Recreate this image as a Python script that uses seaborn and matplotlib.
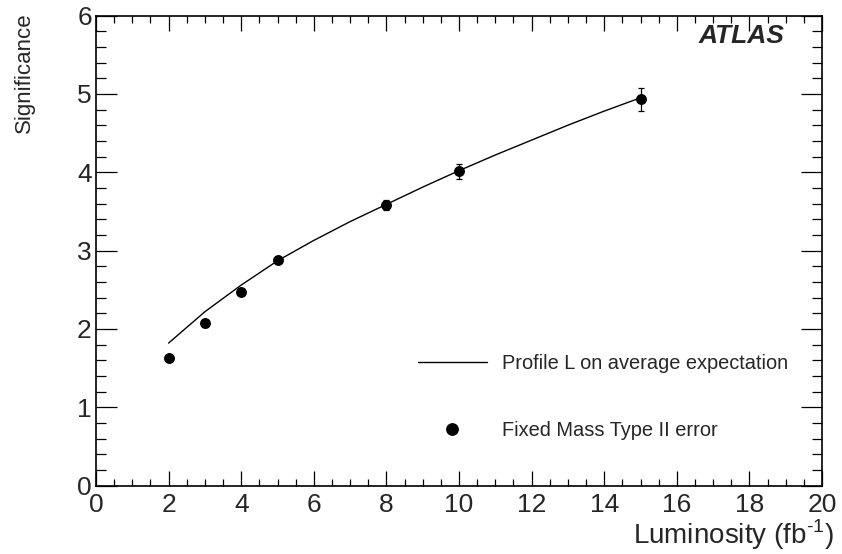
import matplotlib
matplotlib.use("Agg")
import matplotlib.pyplot as plt
from matplotlib.ticker import MultipleLocator
from matplotlib.lines import Line2D
import seaborn as sns
import pandas as pd

# Expected significance vs. integrated luminosity
curve_lumi = [2, 3, 4, 5, 6, 7, 8, 9, 10, 11, 12, 13, 14, 15]
curve_signif = [1.82, 2.22, 2.56, 2.87, 3.13, 3.37, 3.59, 3.81, 4.02, 4.22, 4.41, 4.60, 4.78, 4.95]

point_lumi = [2, 3, 4, 5, 8, 10, 15]
point_signif = [1.63, 2.07, 2.47, 2.88, 3.58, 4.01, 4.93]
point_err = [0.04, 0.04, 0.04, 0.04, 0.06, 0.10, 0.15]

curve_label = "Profile L on average expectation"
point_label = "Fixed Mass Type II error"

sns.set_style("ticks")
plt.rcParams["font.family"] = ["Liberation Sans", "DejaVu Sans"]
plt.rcParams["mathtext.fontset"] = "custom"
plt.rcParams["mathtext.rm"] = "Liberation Sans"

curve_df = pd.DataFrame({"lumi": curve_lumi, "signif": curve_signif})
point_df = pd.DataFrame({"lumi": point_lumi, "signif": point_signif, "err": point_err})

fig = plt.figure(figsize=(8.42, 5.54), dpi=100)
ax = fig.add_axes([96 / 842, 1 - 485.7 / 554, (822 - 96) / 842, (485.7 - 15.5) / 554])

sns.lineplot(data=curve_df, x="lumi", y="signif", ax=ax, color="black",
             linewidth=1.0, sort=True, legend=False)
ax.errorbar(point_df["lumi"], point_df["signif"], yerr=point_df["err"],
            fmt="none", ecolor="black", elinewidth=0.9, capsize=2.2, capthick=0.9)
sns.scatterplot(data=point_df, x="lumi", y="signif", ax=ax, color="black",
                s=62, edgecolor="black", linewidth=0, legend=False, zorder=5)

ax.set_xlim(0, 20)
ax.set_ylim(0, 6)
ax.xaxis.set_major_locator(MultipleLocator(2))
ax.xaxis.set_minor_locator(MultipleLocator(0.5))
ax.yaxis.set_major_locator(MultipleLocator(1))
ax.yaxis.set_minor_locator(MultipleLocator(0.2))

for side in ax.spines.values():
    side.set_linewidth(1.2)
    side.set_color("black")

ax.tick_params(which="both", direction="in", top=True, right=True,
               color="black", width=0.9, labelsize=19)
ax.xaxis.set_tick_params(which="major", length=10.6, pad=5)
ax.xaxis.set_tick_params(which="minor", length=5.3)
ax.yaxis.set_tick_params(which="major", length=14.9, pad=3)
ax.yaxis.set_tick_params(which="minor", length=7.2)

ax.set_xlabel(r"Luminosity (fb$^{\text{-1}}$)", fontsize=20, ha="right", va="top")
ax.xaxis.set_label_coords(1.016, -0.067)
ax.set_ylabel("Significance", fontsize=16, ha="right", va="center")
ax.yaxis.set_label_coords(-0.099, 1.007)

ax.text(0.9477, 0.957, "ATLAS", transform=ax.transAxes, ha="right", va="center",
        fontsize=19, fontweight="bold", fontstyle="italic")

handles = [
    Line2D([], [], color="black", linewidth=1.0),
    Line2D([], [], color="black", marker="o", linestyle="none", markersize=8.2),
]
ax.legend(handles, [curve_label, point_label], loc="center left",
          bbox_to_anchor=(0.4435, 0.1894), frameon=False, fontsize=14.4,
          handlelength=3.45, handletextpad=0.75, labelspacing=2.4,
          borderpad=0, borderaxespad=0)

fig.savefig("out.png", dpi=100)
